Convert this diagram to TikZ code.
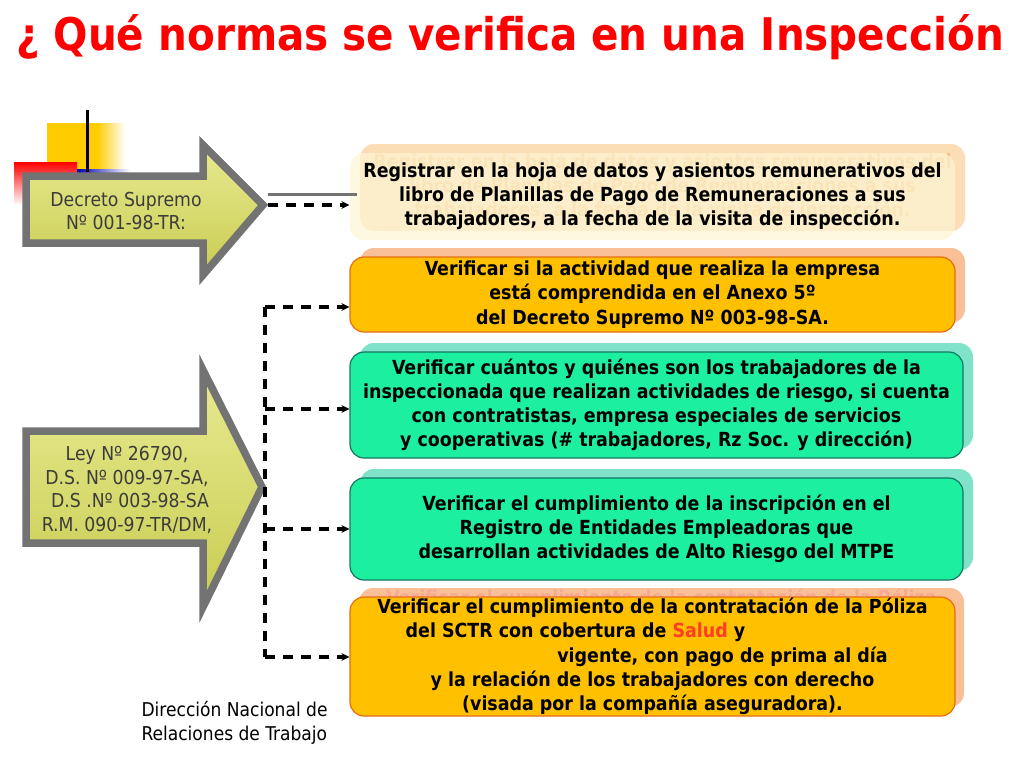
\documentclass[tikz,border=0pt]{standalone}
\usepackage{fontspec}
\setmainfont{DejaVu Sans Condensed}
\usetikzlibrary{arrows.meta}
\usetikzlibrary{calc}
\usetikzlibrary{positioning}

\definecolor{titlered}{RGB}{255,0,0}
\definecolor{gold}{RGB}{255,192,0}
\definecolor{goldedge}{RGB}{230,110,20}
\definecolor{peach}{RGB}{249,192,152}
\definecolor{mint}{RGB}{28,240,160}
\definecolor{mintedge}{RGB}{20,120,100}
\definecolor{mintshade}{RGB}{128,226,200}
\definecolor{paleface}{RGB}{255,246,212}
\definecolor{paleshade}{RGB}{251,222,182}
\definecolor{ghost}{RGB}{240,190,125}
\definecolor{ghostred}{RGB}{246,170,150}
\definecolor{arrowgray}{RGB}{115,115,115}
\definecolor{olivelight}{RGB}{232,234,145}
\definecolor{olivedark}{RGB}{200,204,80}
\definecolor{saludred}{RGB}{255,60,40}
\definecolor{lawtext}{RGB}{60,60,60}
\definecolor{deckgold}{RGB}{255,204,0}

\tikzset{
  card/.style={rounded corners=14pt, line width=1.2pt, align=center,
    inner sep=0pt, font=\bfseries\fontsize{19.4}{24.2}\selectfont},
  goldcard/.style={card, fill=gold, draw=goldedge, minimum width=605pt},
  mintcard/.style={card, fill=mint, draw=mintedge, minimum width=613pt},
  backcard/.style={card, draw=none},
  lawarrow/.style={draw=arrowgray, line width=7.5pt, top color=olivelight,
    bottom color=olivedark},
  lawtext/.style={text=lawtext, align=center, font=\fontsize{19.2}{23.5}\selectfont},
  dashlink/.style={line width=3.4pt, dash pattern=on 10pt off 8pt},
  dasharrow/.style={dashlink, -{Stealth[length=8pt,width=8pt]}}
}

\begin{document}
\begin{tikzpicture}[x=1pt, y=-1pt]
    \useasboundingbox[fill=white] (0,0) rectangle (1024,768);

    % Title
    \node[font=\bfseries\fontsize{45}{52}\selectfont, text=titlered] (title)
        at (510,37) {¿ Qué normas se verifica en una Inspección};

    % Template corner
    \fill[deckgold] (47,123) rectangle (97,172);
    \shade[left color=deckgold, right color=white] (97,123) rectangle (125,172);
    \shade[top color=red, bottom color=white] (14,162) rectangle (77,205);
    \shade[left color=blue!70!black, right color=white] (77,169) rectangle (130,173);
    \draw[line width=3pt] (87,110) -- (87,172);

    % Law arrows
    \draw[lawarrow] (26,176) -- (203,176) -- (203,145) -- (263,205)
        -- (203,275) -- (203,243) -- (26,243) -- cycle;
    \coordinate (t1) at (268,205);
    \node[lawtext] (law1) at (126,211) {Decreto Supremo\\Nº 001-98-TR:};

    \draw[lawarrow] (26,431) -- (203,431) -- (203,370) -- (262,487)
        -- (203,607) -- (203,543) -- (26,543) -- cycle;
    \coordinate (t2) at (267,487);
    \node[lawtext] (law2) at (127,490)
        {Ley Nº 26790,\\D.S. Nº 009-97-SA,\\\hspace*{6pt}D.S .Nº 003-98-SA\\R.M. 090-97-TR/DM,};

    % Shadows
    \node[backcard, fill=paleshade, text=ghost, minimum width=605pt, minimum height=87pt]
        (s1) at (662.5,187.5) {Registrar en la hoja de datos y asientos remunerativos del\\
        libro de Planillas de Pago de Remuneraciones a sus\\
        trabajadores, a la fecha de la visita de inspección.};
    \node[backcard, fill=peach, minimum width=605pt, minimum height=75pt]
        (s2) at (662.5,285.5) {};
    \node[backcard, fill=mintshade, minimum width=613pt, minimum height=106pt]
        (s3) at (666.5,396) {};
    \node[backcard, fill=mintshade, minimum width=613pt, minimum height=102pt]
        (s4) at (666.5,520) {};
    \node[backcard, fill=peach, text=ghostred, minimum width=605pt, minimum height=119pt]
        (s5) at (661.5,647.5) {Verificar el cumplimiento de la contratación de la Póliza\\
        del SCTR con cobertura de Salud y\hspace*{154pt}\mbox{}\\
        \hspace*{140pt}vigente, con pago de prima al día\\
        y la relación de los trabajadores con derecho\\
        (visada por la compañía aseguradora).};

    % Cards
    \node[card, fill=paleface, fill opacity=0.7, text opacity=1, draw=none,
        minimum width=605pt, minimum height=87pt] (b1) at (652.5,196.5)
        {Registrar en la hoja de datos y asientos remunerativos del\\
        libro de Planillas de Pago de Remuneraciones a sus\\
        trabajadores, a la fecha de la visita de inspección.};
    \node[goldcard, minimum height=75pt] (b2) at (652.5,294.5)
        {Verificar si la actividad que realiza la empresa\\
        está comprendida en el Anexo 5º\\
        del Decreto Supremo Nº 003-98-SA.};
    \node[mintcard, minimum height=106pt] (b3) at (656.5,405)
        {Verificar cuántos y quiénes son los trabajadores de la\\
        inspeccionada que realizan actividades de riesgo, si cuenta\\
        con contratistas, empresa especiales de servicios\\
        y cooperativas (\# trabajadores, Rz Soc. y dirección)};
    \node[mintcard, minimum height=102pt] (b4) at (656.5,529)
        {Verificar el cumplimiento de la inscripción en el\\
        Registro de Entidades Empleadoras que\\
        desarrollan actividades de Alto Riesgo del MTPE};
    \node[goldcard, minimum height=119pt] (b5) at (652.5,656.5)
        {Verificar el cumplimiento de la contratación de la Póliza\\
        del SCTR con cobertura de \textcolor{saludred}{Salud} y\hspace*{154pt}\mbox{}\\
        \hspace*{140pt}vigente, con pago de prima al día\\
        y la relación de los trabajadores con derecho\\
        (visada por la compañía aseguradora).};

    % Connectors
    \draw[arrowgray, line width=3pt] ([yshift=11pt]t1) -- ([yshift=11pt,xshift=8pt]t1 -| b1.west);
    \draw[dasharrow] (t1) -- (t1 -| b1.west);

    \coordinate (v2) at (265,307);
    \coordinate (v3) at (265,409);
    \coordinate (v4) at (265,529);
    \coordinate (v5) at (265,657);
    \draw[dashlink] (v2) -- (v5);
    \draw[dasharrow] (v2) -- (v2 -| b2.west);
    \draw[dasharrow] (v3) -- (v3 -| b3.west);
    \draw[dasharrow] (v4) -- (v4 -| b4.west);
    \draw[dasharrow] (v5) -- (v5 -| b5.west);

    % Footer
    \node[anchor=north west, align=left, font=\fontsize{19}{24}\selectfont]
        (office) at (138,698) {Dirección Nacional de\\Relaciones de Trabajo};
\end{tikzpicture}
\end{document}
